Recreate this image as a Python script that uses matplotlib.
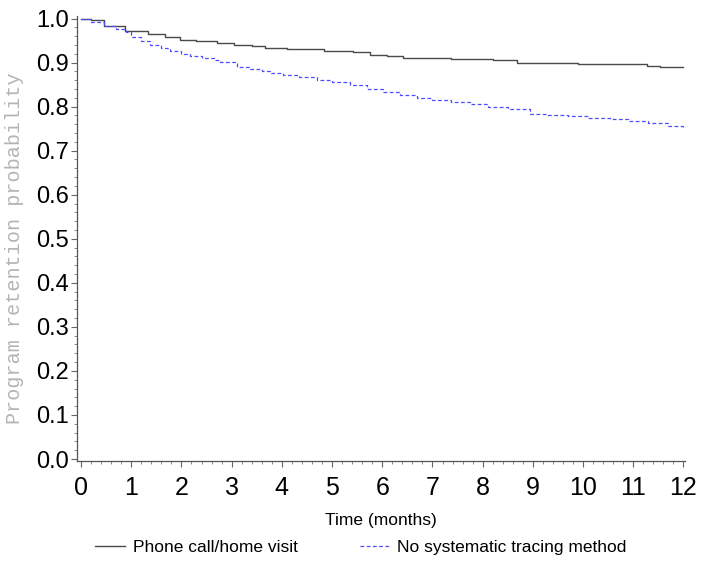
import matplotlib
matplotlib.use("Agg")
import matplotlib.pyplot as plt
from matplotlib.ticker import MultipleLocator

# Kaplan-Meier step data
phone_t = [0, 0.2, 0.45, 0.88, 1.33, 1.67, 1.97, 2.3, 2.7, 3.05, 3.4, 3.67, 4.1, 4.83,
           5.42, 5.76, 6.1, 6.42, 7.36, 8.2, 8.69, 9.89, 11.28, 11.54, 12.0]
phone_s = [1.0, 0.997, 0.982, 0.971, 0.964, 0.958, 0.952, 0.948, 0.945, 0.940, 0.937,
           0.933, 0.931, 0.926, 0.924, 0.918, 0.914, 0.911, 0.909, 0.905, 0.900, 0.896,
           0.892, 0.890, 0.890]

none_t = [0, 0.2, 0.45, 0.7, 0.9, 1.0, 1.2, 1.38, 1.6, 1.77, 2.0, 2.17, 2.4, 2.64, 2.77,
          3.1, 3.37, 3.6, 3.77, 4.03, 4.35, 4.7, 5.0, 5.36, 5.7, 6.02, 6.35, 6.7, 7.0,
          7.36, 7.75, 8.1, 8.5, 8.95, 9.3, 9.7, 10.1, 10.54, 10.9, 11.3, 11.7, 12.0]
none_s = [1.0, 0.993, 0.984, 0.976, 0.969, 0.958, 0.950, 0.940, 0.933, 0.927, 0.920,
          0.915, 0.910, 0.906, 0.901, 0.889, 0.886, 0.881, 0.877, 0.872, 0.867, 0.861,
          0.855, 0.848, 0.840, 0.833, 0.826, 0.820, 0.815, 0.810, 0.805, 0.800, 0.795,
          0.784, 0.781, 0.778, 0.775, 0.772, 0.768, 0.763, 0.757, 0.750]

series_labels = ["Phone call/home visit", "No systematic tracing method"]
x_ticks = list(range(0, 13))
y_ticks = [0.0, 0.1, 0.2, 0.3, 0.4, 0.5, 0.6, 0.7, 0.8, 0.9, 1.0]

plt.rcParams['font.family'] = ['Liberation Sans', 'DejaVu Sans']

fig = plt.figure(figsize=(7.03, 5.62), dpi=100)
W, H = 703, 562
ax = fig.add_axes([77 / W, 1 - 461 / H, (685 - 77) / W, (461 - 16) / H])

l1, = ax.step(phone_t, phone_s, where='post', color='#4a4a4a', lw=1.0,
              label=series_labels[0])
l2, = ax.step(none_t, none_s, where='post', color='#4b4bff', lw=0.9,
              linestyle=(0, (3, 2)), label=series_labels[1])

ax.set_xlim(-0.08, 12.03)
ax.set_ylim(-0.0045, 1.0057)

for s in ['top', 'right']:
    ax.spines[s].set_visible(False)
for s in ['left', 'bottom']:
    ax.spines[s].set_color('#555555')
    ax.spines[s].set_linewidth(0.9)

ax.set_xticks(x_ticks)
ax.set_xticklabels([str(v) for v in x_ticks])
ax.set_yticks(y_ticks)
ax.set_yticklabels([f"{v:.1f}" for v in y_ticks])
ax.xaxis.set_minor_locator(MultipleLocator(0.2))
ax.yaxis.set_minor_locator(MultipleLocator(0.02))

ax.tick_params(axis='x', which='major', labelsize=18, length=4, width=0.8,
               color='#666666', pad=7)
ax.tick_params(axis='y', which='major', labelsize=17, length=4, width=0.8,
               color='#666666', pad=2)
ax.tick_params(which='minor', length=2.5, width=0.6, color='#777777')

ax.set_xlabel("Time (months)", fontsize=12.5)
ax.xaxis.set_label_coords(0.5, (461 - 520) / 445)
ax.xaxis.label.set_va('center')

ax.set_ylabel("Program retention probability", fontsize=14.5, color='#b4b4b4',
              family=['Liberation Mono', 'DejaVu Sans Mono'])
ax.yaxis.set_label_coords((15 - 77) / 608, (461 - 248) / 445)
ax.yaxis.label.set_va('center')

fig.legend(handles=[l1, l2], loc='center', ncol=2, frameon=False,
           bbox_to_anchor=(361 / W, 1 - 547 / H), fontsize=12.5,
           handlelength=1.7, handletextpad=0.45, columnspacing=3.6)

fig.savefig("out.png", dpi=100)
